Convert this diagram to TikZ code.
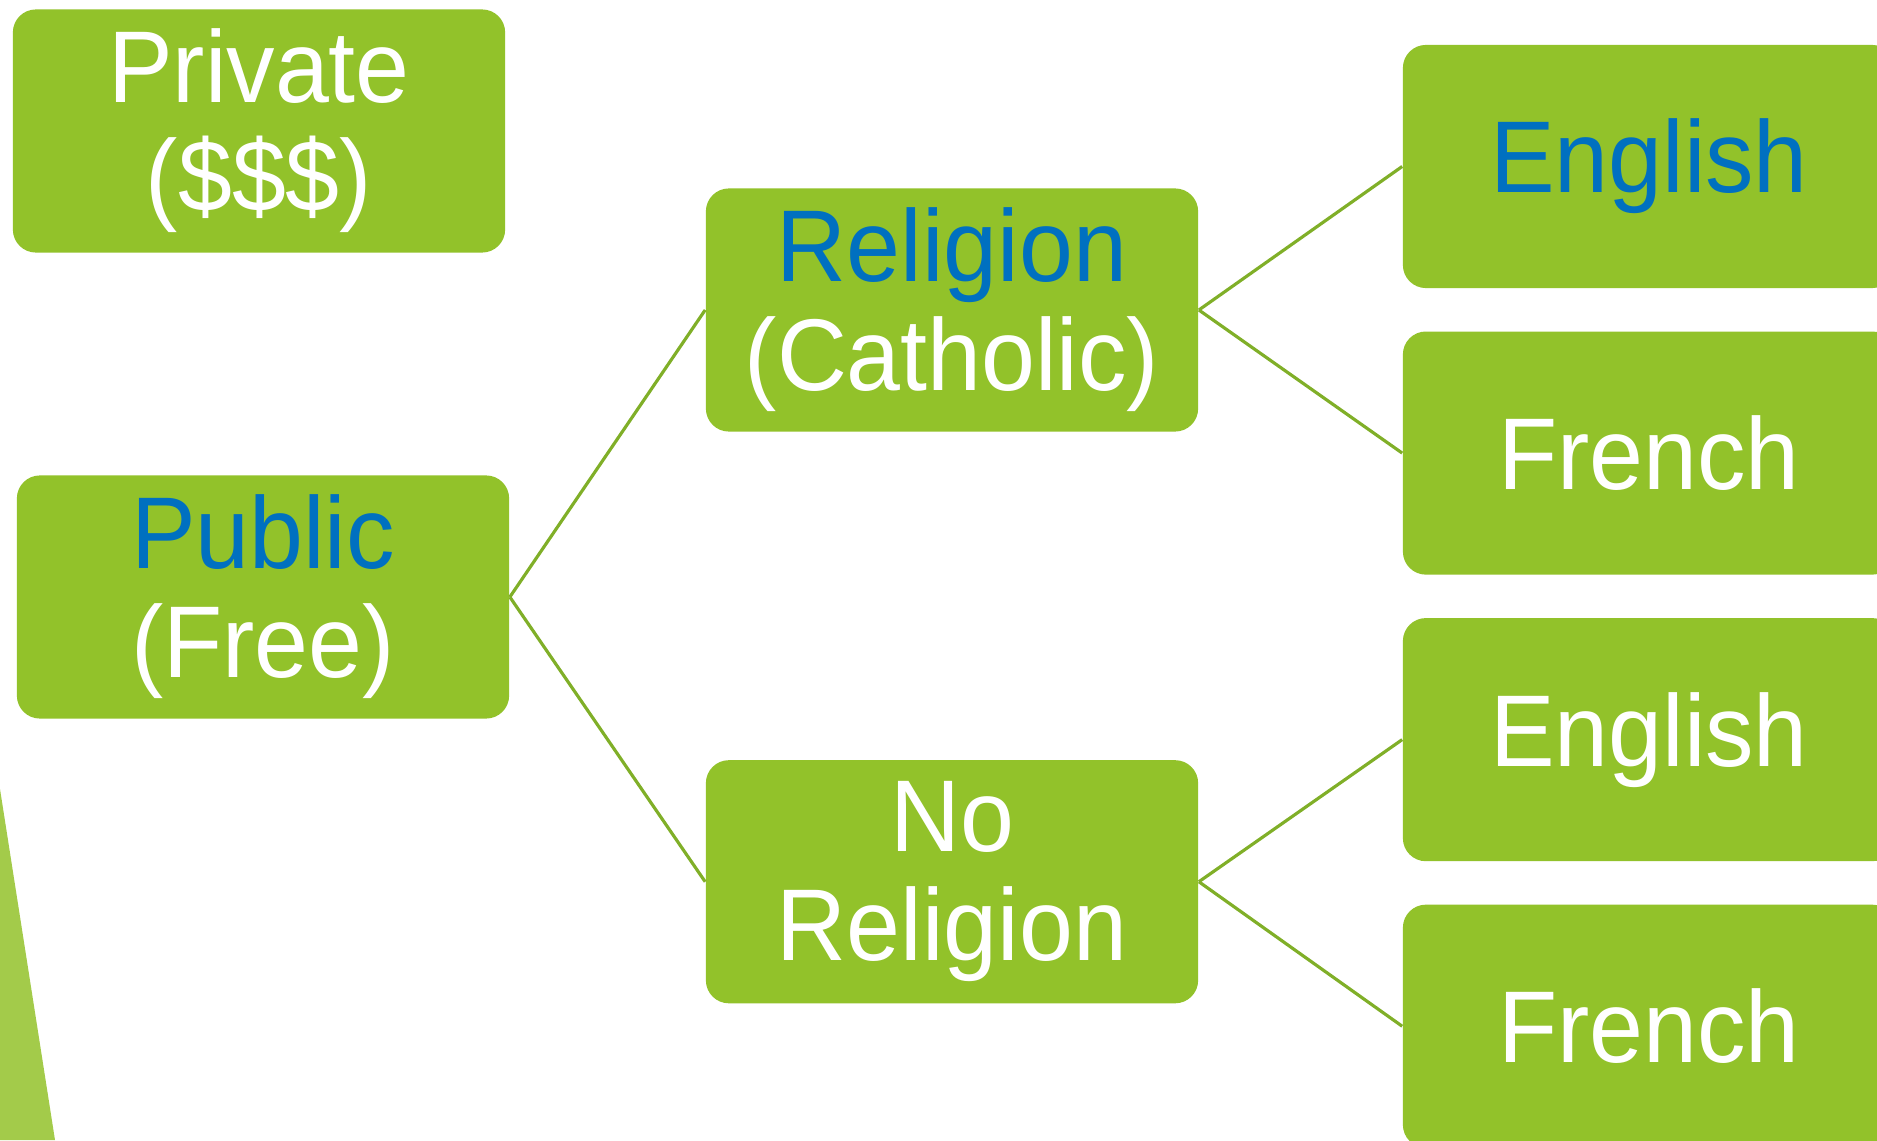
\documentclass[tikz,border=0pt]{standalone}
\usepackage{fontspec}
\setmainfont{Liberation Sans}[FakeStretch=0.95]
\usetikzlibrary{positioning}

\definecolor{boxgreen}{HTML}{92C22A}
\definecolor{wordblue}{HTML}{0070C0}
\definecolor{linkgreen}{HTML}{80AF28}
\definecolor{cornergreen}{HTML}{A3CB4A}

\begin{document}
\begin{tikzpicture}[x=0.01cm,y=0.01cm,
  school/.style={rectangle, rounded corners=0.23cm, fill=boxgreen, text=white,
    minimum width=4.92cm, minimum height=2.43cm, inner sep=0pt, align=center,
    font=\fontsize{29}{31}\selectfont},
  link/.style={draw=linkgreen, line width=0.9pt}]

  % Frame
  \useasboundingbox (0,0) rectangle (1877,-1140);
  \clip (0,0) rectangle (1877,-1140);

  % Corner
  \fill[cornergreen] (0,-789) -- (55,-1140) -- (0,-1140) -- cycle;

  % Nodes
  \node[school] (priv) at (259,-131) {Private\\(\$\$\$)};
  \node[school] (pub) at (263,-597) {\textcolor{wordblue}{Public}\\(Free)};

  \node[school] (rel_c) at (952,-310) {\textcolor{wordblue}{Religion}\\(Catholic)};
  \node[school, below = 3.27cm of rel_c] (rel_n) {No\\Religion};

  \node[school] (eng_c) at (1649,-166.5) {\textcolor{wordblue}{English}};
  \node[school, below = 0.42cm of eng_c] (fr_c) {French};
  \node[school, below = 0.42cm of fr_c] (eng_n) {English};
  \node[school, below = 0.42cm of eng_n] (fr_n) {French};

  % Edges
  \draw[link] (pub.east) -- (rel_c.west);
  \draw[link] (pub.east) -- (rel_n.west);

  \draw[link] (rel_c.east) -- (eng_c.west);
  \draw[link] (rel_c.east) -- (fr_c.west);

  \draw[link] (rel_n.east) -- (eng_n.west);
  \draw[link] (rel_n.east) -- (fr_n.west);
\end{tikzpicture}
\end{document}
